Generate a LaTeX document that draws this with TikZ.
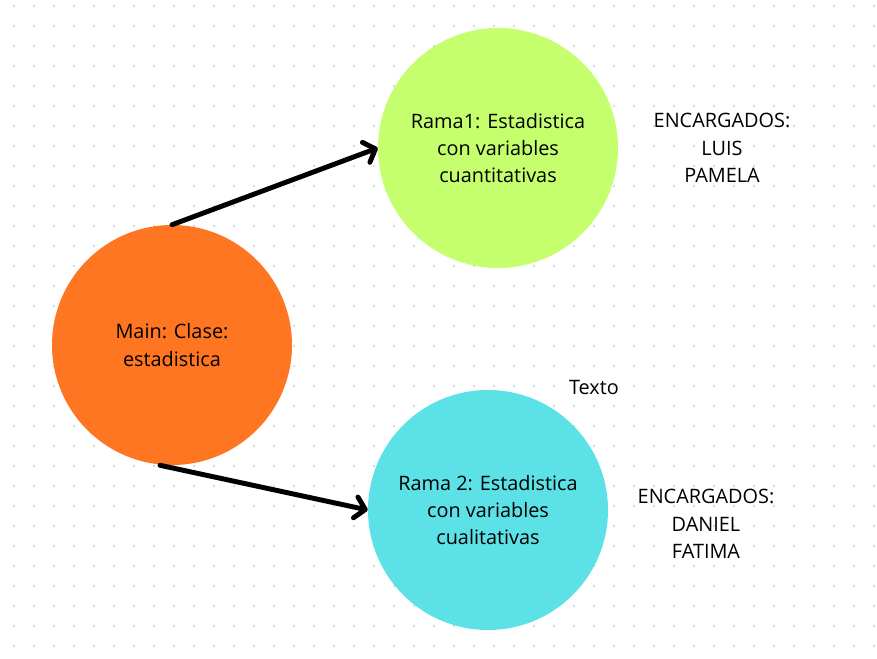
\documentclass[tikz,border=0pt]{standalone}
\usepackage{fontspec}
\setmainfont{Open Sans}
\usepackage{tikz}
\usetikzlibrary{positioning,arrows.meta}
\definecolor{mainorange}{RGB}{254,118,33}
\definecolor{ramalime}{RGB}{198,255,110}
\definecolor{ramacyan}{RGB}{92,225,230}
\definecolor{griddot}{RGB}{212,217,226}
\tikzset{
  >={Straight Barb[round,length=2.6mm,width=5.6mm]},
  topic/.style={circle,minimum size=180pt,inner sep=0pt,align=center,
    font=\fontsize{14.9}{20.5}\selectfont},
  note/.style={align=center,font=\fontsize{14.9}{20.5}\selectfont},
  link/.style={->,line width=3.7pt,line cap=round},
}
\begin{document}
\begin{tikzpicture}[x=0.75pt,y=-0.75pt]
  \useasboundingbox (0,0) rectangle (877,658);
  % ---- dotted background ----
  \foreach \i in {0,...,43}
    \foreach \j in {0,...,32}
      \fill[griddot] (14+20*\i-1.1,6+20*\j-1.1) rectangle ++(2.2,2.2);
  % ---- topics ----
  \node[topic,fill=mainorange] (main) at (172,345) {Main: Clase:\\estadistica};
  \node[topic,fill=ramalime] (rama1) at (498,148)
    {Rama1: Estadistica\\con variables\\cuantitativas};
  \node[topic,fill=ramacyan] (rama2) at (488,510)
    {Rama 2: Estadistica\\con variables\\cualitativas};
  % ---- notes ----
  \node[note] (enc1) at (722,148) {ENCARGADOS:\\LUIS\\PAMELA};
  \node[note] (enc2) at (706,524) {ENCARGADOS:\\DANIEL\\FATIMA};
  \node[note] (texto) at (594,387) {Texto};
  % ---- links ----
  \draw[link] (main.north) -- (rama1.west);
  \draw[link] ([xshift=-9]main.south) -- (rama2.west);
\end{tikzpicture}
\end{document}
